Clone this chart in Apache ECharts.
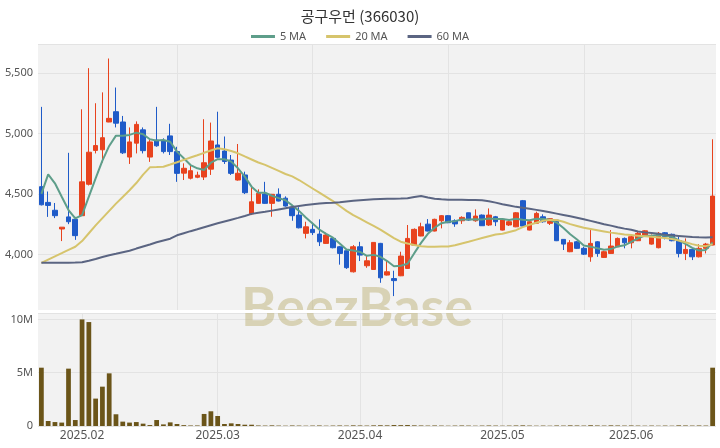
<!DOCTYPE html>
<html>
<head>
<meta charset="utf-8">
<script src="https://cdn.jsdelivr.net/npm/echarts@6/dist/echarts.min.js"></script>
<style>
html,body{margin:0;padding:0;background:#fff;}
#chart{width:720px;height:448px;}
</style>
</head>
<body>
<div id="chart"></div>
<script>
// ---- data ----
const opens  = [4560,4430,4365,4210,4310,4290,4320,4580,4860,4865,5095,5180,5095,4805,4920,5030,4805,4945,4938,4980,
                4850,4672,4630,4638,4640,4705,4905,4855,4780,4615,4657,4335,4422,4500,4422,4497,4465,4390,4325,4174,
                4207,4168,4091,4132,4063,4030,3856,4063,3906,3875,4091,3829,3800,3823,3884,4077,4152,4250,4193,4278,
                4320,4278,4278,4344,4278,4325,4243,4311,4201,4243,4228,4444,4201,4257,4311,4257,4284,4124,4022,4104,
                4050,3980,4104,3975,4008,4063,4132,4096,4113,4160,4085,4055,4179,4166,4113,4008,4041,3980,4050,4077];
const closes = [4410,4405,4320,4225,4270,4155,4600,4845,4900,4965,5125,5085,4840,4930,5075,4858,4930,4898,4850,4850,
                4670,4712,4692,4655,4758,4938,4803,4768,4670,4671,4510,4435,4505,4422,4497,4441,4400,4320,4220,4228,
                4180,4104,4160,4055,4008,3890,4063,3994,3947,4099,3806,3856,3783,3986,4132,4207,4228,4193,4290,4320,
                4262,4252,4306,4284,4317,4237,4325,4270,4290,4270,4344,4234,4270,4339,4270,4295,4113,4085,4096,4050,
                4002,4091,4008,4022,4069,4132,4096,4146,4174,4195,4146,4174,4146,4113,4008,4041,3980,4050,4085,4482];
const lows   = [4405,4310,4300,4110,4250,4120,4320,4570,4835,4760,5093,5050,4830,4748,4835,4835,4765,4890,4835,4822,
                4600,4615,4620,4630,4615,4657,4795,4748,4657,4610,4499,4325,4420,4418,4311,4438,4395,4278,4215,4132,
                4160,4069,4088,4050,3915,3880,3850,3945,3889,3872,3765,3825,3655,3820,3880,4072,4150,4190,4190,4215,
                4258,4228,4252,4278,4270,4235,4235,4234,4198,4235,4225,4230,4198,4253,4262,4243,4110,4036,4018,4045,
                3995,3939,3980,3970,4005,4060,4050,4050,4110,4155,4080,4050,4124,4108,3975,3953,3953,3975,4008,4075];
const highs  = [5220,4520,4425,4225,4840,4310,5200,5540,5250,5340,5620,5380,5145,5050,5100,5050,4950,5220,4960,5080,
                4890,4753,4748,4684,5118,5090,5180,4975,4822,4913,4684,4560,4538,4600,4500,4546,4480,4408,4390,4270,
                4262,4290,4179,4140,4070,4040,4077,4104,3994,4100,4095,3953,3865,4022,4243,4215,4262,4292,4295,4325,
                4325,4290,4315,4345,4372,4330,4380,4318,4295,4285,4350,4450,4285,4353,4331,4300,4290,4126,4118,4110,
                4063,4201,4110,4030,4201,4140,4140,4160,4185,4200,4165,4185,4185,4172,4160,4132,4050,4085,4095,4952];
const ma5  = [4500,4662,4588,4477,4367,4298,4325,4477,4629,4775,4897,4982,4982,4988,5007,4994,4952,4941,4946,4932,
              4850,4795,4739,4712,4698,4758,4787,4787,4767,4712,4643,4560,4510,4510,4485,4465,4448,4405,4360,4305,
              4255,4205,4170,4138,4090,4040,4032,4020,3988,3996,3980,3945,3902,3906,3922,4010,4095,4170,4220,4258,
              4270,4275,4288,4288,4290,4288,4297,4293,4292,4285,4295,4286,4283,4295,4293,4286,4263,4218,4166,4123,
              4073,4064,4050,4038,4044,4066,4075,4103,4132,4155,4154,4160,4156,4146,4115,4086,4054,4032,4037,4100];
const ma20 = [3930,3957,3984,4010,4037,4063,4110,4175,4240,4300,4360,4420,4475,4530,4590,4660,4720,4722,4725,4743,
              4762,4782,4801,4820,4840,4859,4878,4870,4855,4836,4810,4785,4760,4740,4715,4690,4665,4645,4615,4580,
              4545,4510,4475,4440,4400,4360,4325,4295,4265,4235,4205,4170,4135,4105,4090,4077,4068,4063,4064,4065,
              4066,4075,4090,4104,4120,4135,4150,4165,4170,4185,4200,4225,4245,4262,4278,4284,4284,4270,4250,4235,
              4220,4210,4200,4190,4180,4172,4165,4160,4155,4150,4145,4140,4135,4128,4115,4100,4085,4072,4068,4085];
const ma60 = [3930,3930,3930,3930,3930,3932,3935,3948,3962,3978,3993,4005,4018,4030,4048,4065,4082,4100,4115,4130,
              4158,4175,4192,4208,4225,4241,4257,4272,4287,4302,4318,4335,4345,4352,4362,4372,4382,4392,4400,4408,
              4414,4420,4425,4428,4432,4438,4443,4448,4452,4455,4458,4460,4461,4462,4465,4475,4483,4470,4460,4455,
              4452,4452,4451,4450,4450,4448,4440,4428,4415,4405,4393,4385,4378,4368,4358,4348,4337,4326,4315,4303,
              4290,4277,4263,4250,4238,4225,4213,4203,4190,4182,4176,4170,4163,4158,4153,4148,4143,4141,4140,4142];
const volumes = [5470000,470000,370000,320000,5380000,560000,10000000,9750000,2570000,3690000,
                 4940000,1100000,410000,320000,370000,220000,90000,560000,150000,340000,
                 190000,80000,50000,50000,1130000,1380000,940000,190000,250000,190000,
                 120000,120000,50000,40000,60000,40000,30000,50000,40000,30000,
                 40000,50000,30000,40000,50000,40000,60000,50000,40000,60000,
                 70000,60000,90000,80000,90000,60000,50000,40000,50000,40000,
                 30000,40000,50000,40000,30000,40000,50000,40000,30000,40000,
                 50000,60000,40000,30000,40000,30000,50000,40000,60000,50000,
                 40000,70000,50000,40000,60000,50000,40000,50000,40000,30000,
                 40000,30000,40000,30000,60000,50000,40000,50000,40000,5470000];
const monthTickIdx = [6, 26, 47, 68, 87];
const monthTickLabels = ['2025.02', '2025.03', '2025.04', '2025.05', '2025.06'];
const mainGridIdx = [20, 40, 60, 80];
const seriesNames = ['5 MA', '20 MA', '60 MA'];
const titleText = '공구우먼 (366030)';

// ---- build ----
const categories = closes.map((_, i) => String(i));
const candles = closes.map((c, i) => [opens[i], c, lows[i], highs[i]]);

const UP = '#E8431E', DOWN = '#1F5BC8';
const lineCols = ['#5E9E8A', '#D6C46C', '#5B6582'];
const gridBg = '#F2F2F2', splitCol = '#E3E3E3', labelCol = '#555';

const chart = echarts.init(document.getElementById('chart'), null, {renderer: 'canvas'});
chart.setOption({
  animation: false,
  backgroundColor: '#fff',
  title: {
    text: titleText, left: 'center', top: 4,
    textStyle: {fontFamily: 'Noto Sans CJK KR', fontSize: 15, fontWeight: 'normal', color: '#333'}
  },
  legend: {
    data: seriesNames, top: 26, left: 'center', icon: 'rect', itemWidth: 24, itemHeight: 3, itemGap: 20,
    textStyle: {fontFamily: 'Noto Sans', fontSize: 11, color: '#555'}
  },
  graphic: [{
    type: 'text', z: 1, silent: true,
    style: {text: 'BeezBase', x: 357, y: 309, align: 'center', verticalAlign: 'middle',
            font: 'bold 54px Lato', fill: 'rgba(196,186,136,0.58)'}
  }, {
    type: 'rect', z: 1, silent: true,
    shape: {x: 38, y: 310, width: 678, height: 3}, style: {fill: '#fff'}
  }],
  grid: [
    {left: 38, right: 4, top: 44, height: 266, show: true, backgroundColor: gridBg, borderWidth: 0},
    {left: 38, right: 4, top: 313, height: 113, show: true, backgroundColor: gridBg, borderWidth: 0}
  ],
  xAxis: [
    {type: 'category', gridIndex: 0, data: categories, boundaryGap: true,
     axisLine: {show: false}, axisTick: {show: false}, axisLabel: {show: false},
     splitLine: {show: true, alignWithLabel: true, interval: (idx) => mainGridIdx.includes(idx),
                 lineStyle: {color: splitCol, width: 1}}},
    {type: 'category', gridIndex: 1, data: categories, boundaryGap: true,
     axisLine: {show: false}, axisTick: {show: false},
     axisLabel: {show: true, interval: (idx) => monthTickIdx.includes(idx),
                 formatter: (v, idx) => monthTickLabels[monthTickIdx.indexOf(Number(v))] || '',
                 color: labelCol, fontFamily: 'Noto Sans', fontSize: 12, margin: 4},
     splitLine: {show: true, alignWithLabel: true, interval: (idx) => monthTickIdx.includes(idx),
                 lineStyle: {color: splitCol, width: 1}}}
  ],
  yAxis: [
    {type: 'value', gridIndex: 0, min: 3540, max: 5740, splitNumber: 5, scale: true,
     axisLine: {show: false}, axisTick: {show: false},
     axisLabel: {showMinLabel: false, showMaxLabel: false, color: labelCol, fontFamily: 'Noto Sans', fontSize: 11, margin: 5,
                 formatter: (v) => v.toLocaleString('en-US')},
     splitLine: {lineStyle: {color: splitCol, width: 1}}},
    {type: 'value', gridIndex: 1, min: 0, max: 10600000, interval: 5000000,
     axisLine: {show: false}, axisTick: {show: false},
     axisLabel: {showMaxLabel: false, color: labelCol, fontFamily: 'Noto Sans', fontSize: 11, margin: 5,
                 formatter: (v) => v === 0 ? '0' : (v / 1000000) + 'M'},
     splitLine: {lineStyle: {color: splitCol, width: 1}}}
  ],
  series: [
    {type: 'candlestick', xAxisIndex: 0, yAxisIndex: 0, data: candles, barWidth: '75%', z: 3,
     itemStyle: {color: UP, color0: DOWN, borderColor: UP, borderColor0: DOWN, borderWidth: 1}},
    {name: seriesNames[0], type: 'line', xAxisIndex: 0, yAxisIndex: 0, data: ma5, showSymbol: false, z: 4,
     lineStyle: {color: lineCols[0], width: 2}, itemStyle: {color: lineCols[0]}},
    {name: seriesNames[1], type: 'line', xAxisIndex: 0, yAxisIndex: 0, data: ma20, showSymbol: false, z: 4,
     lineStyle: {color: lineCols[1], width: 2}, itemStyle: {color: lineCols[1]}},
    {name: seriesNames[2], type: 'line', xAxisIndex: 0, yAxisIndex: 0, data: ma60, showSymbol: false, z: 4,
     lineStyle: {color: lineCols[2], width: 2}, itemStyle: {color: lineCols[2]}},
    {type: 'bar', xAxisIndex: 1, yAxisIndex: 1, data: volumes, barWidth: '70%', z: 3,
     itemStyle: {color: '#6B5519'}}
  ]
});
</script>
</body>
</html>
